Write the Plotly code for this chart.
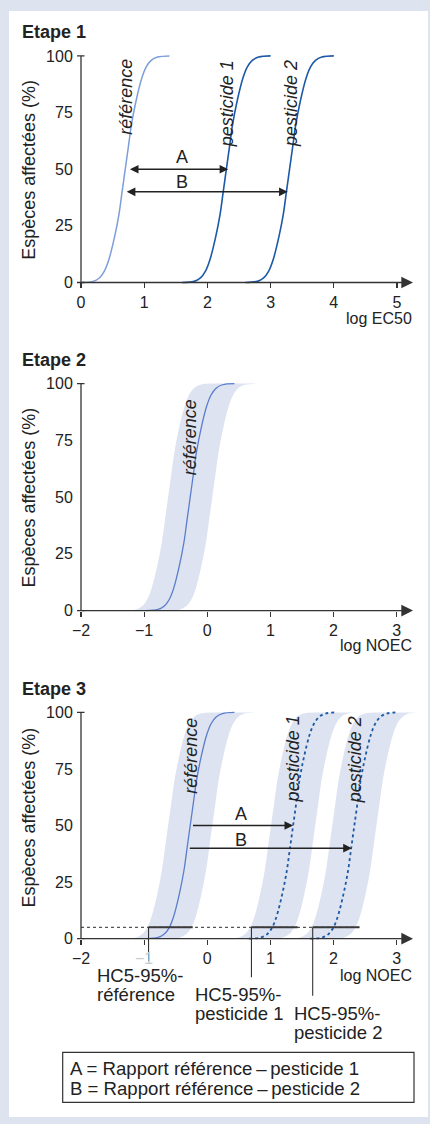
import plotly.graph_objects as go

W, H = 430, 1124
FONT = "Liberation Sans, Arial, sans-serif"

# ---------------- data ----------------
PCT = [0, 0.5, 2, 5, 10, 20, 30, 40, 50, 60, 70, 80, 90, 95, 98, 99.5, 100]

# Etape 1 : log EC50
E1_REF = [0.00, 0.19, 0.29, 0.37, 0.44, 0.53, 0.60, 0.65, 0.70, 0.75, 0.80, 0.87, 0.96, 1.03, 1.11, 1.21, 1.40]
E1_P1 = [1.60, 1.79, 1.89, 1.97, 2.04, 2.13, 2.20, 2.25, 2.30, 2.35, 2.40, 2.47, 2.56, 2.63, 2.71, 2.81, 3.00]
E1_P2 = [2.60, 2.79, 2.89, 2.97, 3.04, 3.13, 3.20, 3.25, 3.30, 3.35, 3.40, 3.47, 3.56, 3.63, 3.71, 3.81, 4.00]

# Etape 2/3 : log NOEC, reference curve with its confidence band
REF = [-0.97, -0.78, -0.68, -0.60, -0.53, -0.44, -0.37, -0.32, -0.27, -0.22, -0.17, -0.10, -0.01, 0.06, 0.14, 0.24, 0.43]
REF_LO = [-1.32, -1.13, -1.03, -0.95, -0.88, -0.79, -0.72, -0.67, -0.62, -0.57, -0.52, -0.45, -0.36, -0.29, -0.21, -0.11, 0.08]
REF_HI = [-0.62, -0.43, -0.33, -0.25, -0.18, -0.09, -0.02, 0.03, 0.08, 0.13, 0.18, 0.25, 0.34, 0.41, 0.49, 0.59, 0.78]

P1 = [0.66, 0.85, 0.95, 1.03, 1.10, 1.19, 1.26, 1.31, 1.36, 1.41, 1.46, 1.53, 1.62, 1.69, 1.77, 1.87, 2.06]
P1_LO = [0.31, 0.50, 0.60, 0.68, 0.75, 0.84, 0.91, 0.96, 1.01, 1.06, 1.11, 1.18, 1.27, 1.34, 1.42, 1.52, 1.71]
P1_HI = [1.01, 1.20, 1.30, 1.38, 1.45, 1.54, 1.61, 1.66, 1.71, 1.76, 1.81, 1.88, 1.97, 2.04, 2.12, 2.22, 2.41]

P2 = [1.63, 1.82, 1.92, 2.00, 2.07, 2.16, 2.23, 2.28, 2.33, 2.38, 2.43, 2.50, 2.59, 2.66, 2.74, 2.84, 3.03]
P2_LO = [1.28, 1.47, 1.57, 1.65, 1.72, 1.81, 1.88, 1.93, 1.98, 2.03, 2.08, 2.15, 2.24, 2.31, 2.39, 2.49, 2.68]
P2_HI = [1.98, 2.17, 2.27, 2.35, 2.42, 2.51, 2.58, 2.63, 2.68, 2.73, 2.78, 2.85, 2.94, 3.01, 3.09, 3.19, 3.38]

# arrows A / B : (start x, end x, y %)
E1_ARROW_A = (0.75, 2.33, 50)
E1_ARROW_B = (0.70, 3.27, 40)
E3_ARROW_A = (-0.25, 1.36, 50)
E3_ARROW_B = (-0.30, 2.29, 40)

# HC5 (5 % level)
HC5_LEVEL = 5
HC5_LEFT = [-0.93, 0.70, 1.67]
HC5_RIGHT = [-0.23, 1.43, 2.41]
HC5_DROP = [-9.9, -17.1, -25.3]
HC5_DOTTED_END = 2.41

E1_XTICKS = [0, 1, 2, 3, 4, 5]
NOEC_XTICKS = [-2, -1, 0, 1, 2, 3]
YTICKS = [0, 25, 50, 75, 100]

# ---------------- styles ----------------
BG = "#dde4ef"
BAND = "#dde3f0"
REF_LIGHT = "#7d9ed8"
REF_MID = "#5a7dcc"
PEST = "#1c59a6"
AX = "#333333"
TXT = "#222222"


def px(x):
    return x / W


def py(y):
    return 1 - y / H


fig = go.Figure()


def line(x, y, xa, ya, color, width=1.5, dash="solid", shape="spline"):
    fig.add_trace(go.Scatter(x=x, y=y, xaxis=xa, yaxis=ya, mode="lines",
                             line=dict(color=color, width=width, dash=dash, shape=shape, smoothing=1.0),
                             hoverinfo="skip", showlegend=False))


def band(lo, hi, xa, ya):
    fig.add_trace(go.Scatter(x=lo, y=PCT, xaxis=xa, yaxis=ya, mode="lines",
                             line=dict(width=0, shape="spline", color=BAND),
                             hoverinfo="skip", showlegend=False))
    fig.add_trace(go.Scatter(x=hi, y=PCT, xaxis=xa, yaxis=ya, mode="lines", fill="tonextx",
                             fillcolor=BAND, line=dict(width=0, shape="spline", color=BAND),
                             hoverinfo="skip", showlegend=False))


# ---- Etape 1
line(E1_REF, PCT, "x", "y", REF_LIGHT, 1.5)
line(E1_P1, PCT, "x", "y", PEST, 1.6)
line(E1_P2, PCT, "x", "y", PEST, 1.6)

# ---- Etape 2
band(REF_LO, REF_HI, "x2", "y2")
line(REF, PCT, "x2", "y2", REF_MID, 1.3)

# ---- Etape 3
band(REF_LO, REF_HI, "x3", "y3")
band(P1_LO, P1_HI, "x3", "y3")
band(P2_LO, P2_HI, "x3", "y3")
line(REF, PCT, "x3", "y3", REF_MID, 1.3)
line(P1, PCT, "x3", "y3", PEST, 1.8, dash="dot")
line(P2, PCT, "x3", "y3", PEST, 1.8, dash="dot")

# 5 % dotted level + HC5 segments and drop lines
line([NOEC_XTICKS[0], HC5_DOTTED_END], [HC5_LEVEL, HC5_LEVEL], "x3", "y3", "#555555", 1.2, dash="dot", shape="linear")
for xl, xr, yd in zip(HC5_LEFT, HC5_RIGHT, HC5_DROP):
    line([xl, xr], [HC5_LEVEL, HC5_LEVEL], "x3", "y3", "#3a3a3a", 2.0, shape="linear")
    line([xl, xl], [HC5_LEVEL, yd], "x3", "y3", AX, 1.1, shape="linear")

# ---------------- axes geometry ----------------
panels = [
    ("", 0, 63.2, 282.0, 55.0, 48, 290, E1_XTICKS),
    ("2", -2, 63.13, 610.7, 383.3, 376, 618, NOEC_XTICKS),
    ("3", -2, 63.13, 939.3, 712.7, 705, 1005, NOEC_XTICKS),
]
AXIS_X_PX = 81
DOM_L, DOM_R = 66, 428
ARROW_END_PX = 413

layout_axes = {}
shapes = [dict(type="rect", xref="paper", yref="paper", x0=px(9), x1=px(428), y0=py(1118), y1=py(10),
               fillcolor="white", line=dict(width=0), layer="below")]
annotations = []

for i, (s, x0v, ppu, y0px, y100px, dtop, dbot, xt) in enumerate(panels):
    yppu = (y0px - y100px) / 100.0
    xr = [x0v - (AXIS_X_PX - DOM_L) / ppu, x0v + (DOM_R - AXIS_X_PX) / ppu]
    yr = [-(dbot - y0px) / yppu, 100 + (y100px - dtop) / yppu]
    if s == "3":
        ticktext = ["−2", '<span style="color:#c9c9c9">−1</span>', "0", "1", "2", "3"]
    else:
        ticktext = [str(v).replace("-", "−") for v in xt]
    layout_axes["xaxis" + s] = dict(
        domain=[px(DOM_L), px(DOM_R)], range=xr, anchor="free", position=py(y0px),
        tickvals=xt, ticktext=ticktext, ticks="outside", ticklen=5, tickwidth=1.2, tickcolor=AX,
        showline=False, showgrid=False, zeroline=False, fixedrange=True,
        tickfont=dict(family=FONT, size=16, color=TXT))
    layout_axes["yaxis" + s] = dict(
        domain=[py(dbot), py(dtop)], range=yr, anchor="free", position=px(AXIS_X_PX),
        tickvals=YTICKS, ticks="outside", ticklen=5, tickcolor="rgba(0,0,0,0)",
        showline=False, showgrid=False, zeroline=False, fixedrange=True,
        tickfont=dict(family=FONT, size=16, color=TXT))
    xa, ya = "x" + s, "y" + s
    shapes.append(dict(type="line", xref=xa, yref=ya, x0=x0v, x1=x0v, y0=0, y1=100,
                       line=dict(color=AX, width=1.3), layer="above"))
    for tv in (0, 100):
        shapes.append(dict(type="line", xref=xa, yref=ya, x0=x0v - 4 / ppu, x1=x0v + 3.5 / ppu, y0=tv, y1=tv,
                           line=dict(color=AX, width=1.3), layer="above"))
    annotations.append(dict(xref=xa, yref=ya, axref=xa, ayref=ya,
                            x=x0v + (ARROW_END_PX - AXIS_X_PX) / ppu, y=0, ax=x0v, ay=0,
                            text="", showarrow=True, arrowhead=2, arrowsize=1.8, arrowwidth=1.3,
                            arrowcolor=AX, standoff=0))

fig.update_layout(**layout_axes)


def arrow(a, xa, ya, both):
    d = dict(xref=xa, yref=ya, axref=xa, ayref=ya, x=a[1], y=a[2], ax=a[0], ay=a[2],
             text="", showarrow=True, arrowhead=2, arrowsize=1.15, arrowwidth=1.5,
             arrowcolor="#222222", standoff=0, startstandoff=0)
    if both:
        d.update(arrowside="end+start", startarrowhead=2, startarrowsize=1.15)
    annotations.append(d)


arrow(E1_ARROW_A, "x", "y", True)
arrow(E1_ARROW_B, "x", "y", True)
arrow(E3_ARROW_A, "x3", "y3", False)
arrow(E3_ARROW_B, "x3", "y3", False)


def txt(text, x, y, size=18, xanchor="center", yanchor="middle", angle=0, xref="paper", yref="paper", bold=False, italic=False):
    t = text
    if italic:
        t = "<i>" + t + "</i>"
    if bold:
        t = "<b>" + t + "</b>"
    annotations.append(dict(text=t, x=x, y=y, xref=xref, yref=yref, xanchor=xanchor, yanchor=yanchor,
                            textangle=angle, showarrow=False, borderpad=0,
                            font=dict(family=FONT, size=size, color=TXT)))


for title, yc in (("Etape 1", 31), ("Etape 2", 360), ("Etape 3", 689)):
    txt(title, px(21), py(yc), size=18, xanchor="left", bold=True)
for yc in (169, 497.5, 818):
    txt("Espèces affectées (%)", px(29), py(yc), size=18, angle=-90)
txt("log EC50", px(413), py(318), size=16, xanchor="right")
txt("log NOEC", px(413), py(646), size=16, xanchor="right")
txt("log NOEC", px(413), py(976), size=16, xanchor="right")

txt("référence", 0.72, 81.7, xref="x", yref="y", angle=-90, italic=True)
txt("pesticide 1", 2.31, 79.1, xref="x", yref="y", angle=-90, italic=True)
txt("pesticide 2", 3.32, 79.1, xref="x", yref="y", angle=-90, italic=True)
txt("référence", -0.27, 76.5, xref="x2", yref="y2", angle=-90, italic=True)
txt("référence", -0.27, 80.9, xref="x3", yref="y3", angle=-90, italic=True)
txt("pesticide 1", 1.36, 79.3, xref="x3", yref="y3", angle=-90, italic=True)
txt("pesticide 2", 2.34, 79.3, xref="x3", yref="y3", angle=-90, italic=True)

txt("A", 1.60, 55.2, xref="x", yref="y")
txt("B", 1.60, 44.2, xref="x", yref="y")
txt("A", 0.53, 55.3, xref="x3", yref="y3")
txt("B", 0.53, 43.8, xref="x3", yref="y3")

for (xl, y1, y2, second) in ((96, 976, 995, "référence"), (194, 995, 1014.5, "pesticide 1"), (293, 1014.5, 1033, "pesticide 2")):
    txt("HC5-95%-", px(xl), py(y1), size=18.5, xanchor="left")
    txt(second, px(xl), py(y2), size=18.5, xanchor="left")

shapes.append(dict(type="rect", xref="paper", yref="paper", x0=px(62.7), x1=px(414), y0=py(1103.3), y1=py(1053.3),
                   line=dict(color=AX, width=1.2), fillcolor="white", layer="below"))
txt("A = Rapport référence\u2009–\u2009pesticide 1", px(69), py(1069), size=18.6, xanchor="left")
txt("B = Rapport référence\u2009–\u2009pesticide 2", px(69), py(1089), size=18.6, xanchor="left")

fig.update_layout(width=W, height=H, margin=dict(l=0, r=0, t=0, b=0),
                  paper_bgcolor=BG, plot_bgcolor="rgba(0,0,0,0)",
                  showlegend=False, shapes=shapes, annotations=annotations,
                  font=dict(family=FONT, color=TXT))

fig.write_html("out.html", config={"displayModeBar": False, "staticPlot": True},
               post_script="document.body.style.margin='0';document.body.style.overflow='hidden';")
